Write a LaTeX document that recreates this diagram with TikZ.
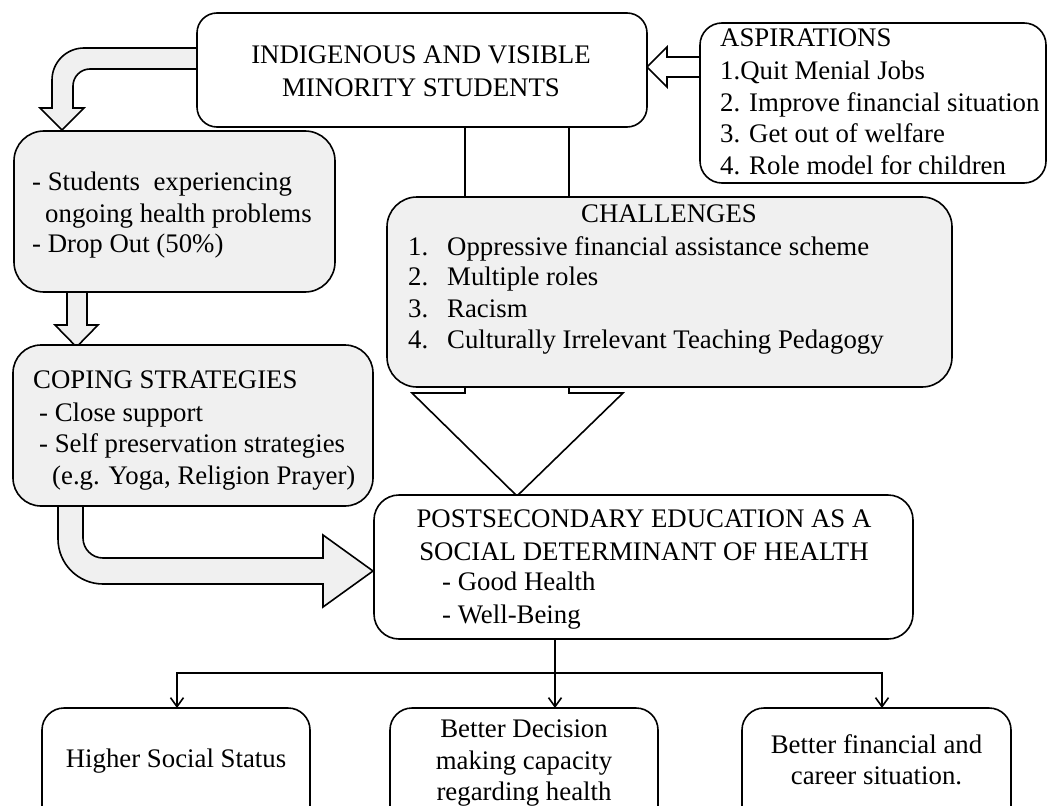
\documentclass[tikz,border=0pt]{standalone}
\usepackage{fontspec}
\setmainfont{Liberation Serif}
\usetikzlibrary{arrows.meta}
\definecolor{boxgray}{HTML}{F0F0F0}
\tikzset{
  box/.style={draw, line width=1.6pt, inner sep=0pt, outer sep=0pt, fill=white},
  graybox/.style={box, fill=boxgray},
  blockarrow/.style={draw, line width=1.6pt, fill=boxgray, line join=miter},
  txt/.style={anchor=base west, inner sep=0pt, font=\fontsize{26.8}{32}\selectfont},
  ctxt/.style={txt, anchor=base},
  conn/.style={draw, line width=1.6pt},
  tip/.style={-{Straight Barb[length=9pt,width=13pt,line width=1.6pt]}}
}
\begin{document}
\begin{tikzpicture}[x=1pt,y=-1pt]
\useasboundingbox (0,0) rectangle (1048,805);
% big white block arrow (behind boxes)
\draw[blockarrow, fill=white] (465,120) -- (465,393) -- (412,393) -- (517,496) -- (623,393) -- (569,393) -- (569,120) -- cycle;
% top-left bent arrow
\draw[blockarrow] (200,48) -- (84,48) .. controls (66.3,48) and (52,62.3) .. (52,80) -- (52,108) -- (40,108) -- (62,130) -- (84,108) -- (73,108) -- (73,86) .. controls (73,76.6) and (80.6,69) .. (90,69) -- (200,69) -- cycle;
% students -> coping arrow
\draw[blockarrow] (67,288) -- (67,325) -- (55,325) -- (76.5,347) -- (98,325) -- (87,325) -- (87,288) -- cycle;
% aspirations -> indigenous arrow
\draw[blockarrow, fill=white] (703,57) -- (667,57) -- (667,47) -- (647,67) -- (667,87) -- (667,77) -- (703,77) -- cycle;
% coping -> postsecondary bent arrow
\draw[blockarrow] (58,500) -- (58,539) .. controls (58,563.8) and (78.2,584) .. (103,584) -- (323,584) -- (323,607) -- (373,571) -- (323,535) -- (323,558) -- (103,558) .. controls (92,558) and (83,549) .. (83,538) -- (83,500) -- cycle;

% boxes
\node[box, rounded corners=20pt, minimum width=450pt, minimum height=114pt] (ind) at (422,70) {};
\node[box, rounded corners=22pt, minimum width=346pt, minimum height=160pt] (asp) at (873,103) {};
\node[graybox, rounded corners=30pt, minimum width=321pt, minimum height=161pt] (stu) at (174.5,211.5) {};
\node[graybox, rounded corners=30pt, minimum width=565pt, minimum height=190pt] (cha) at (669.5,292) {};
\node[graybox, rounded corners=28pt, minimum width=360pt, minimum height=161pt] (cop) at (193,425.5) {};
\node[box, rounded corners=25pt, minimum width=539pt, minimum height=144pt] (pos) at (643.5,567) {};
\node[box, rounded corners=22pt, minimum width=268pt, minimum height=122pt] (lb) at (176,769) {};
\node[box, rounded corners=22pt, minimum width=268pt, minimum height=122pt] (mb) at (524,769) {};
\node[box, rounded corners=22pt, minimum width=269pt, minimum height=122pt] (rb) at (876.5,769) {};

% texts
\node[ctxt] (t1) at (421,64) {INDIGENOUS AND VISIBLE};
\node[ctxt] (t2) at (421,97) {MINORITY STUDENTS};

\node[txt] (a0) at (720,47) {ASPIRATIONS};
\node[txt] (a1) at (720,80) {1.Quit Menial Jobs};
\node[txt] (a2) at (720,112) {2. Improve financial situation};
\node[txt] (a3) at (720,143) {3. Get out of welfare};
\node[txt] (a4) at (720,175) {4. Role model for children};

\node[txt] (s1) at (32,190) {- Students\ \ experiencing};
\node[txt] (s2) at (45,222) {ongoing health problems};
\node[txt] (s3) at (32,252) {- Drop Out (50\%)};

\node[ctxt] (c0) at (669,222) {CHALLENGES};
\node[txt] (c1n) at (408,255) {1.};
\node[txt] (c1) at (447,255) {Oppressive financial assistance scheme};
\node[txt] (c2n) at (408,285) {2.};
\node[txt] (c2) at (447,285) {Multiple roles};
\node[txt] (c3n) at (408,317) {3.};
\node[txt] (c3) at (447,317) {Racism};
\node[txt] (c4n) at (408,348) {4.};
\node[txt] (c4) at (447,348) {Culturally Irrelevant Teaching Pedagogy};

\node[txt] (k0) at (33,388) {COPING STRATEGIES};
\node[txt] (k1) at (39,421) {- Close support};
\node[txt] (k2) at (39,452) {- Self preservation strategies};
\node[txt] (k3) at (52,484) {(e.g. Yoga, Religion Prayer)};

\node[ctxt] (p1) at (644,527) {POSTSECONDARY EDUCATION AS A};
\node[ctxt] (p2) at (644,560) {SOCIAL DETERMINANT OF HEALTH};
\node[txt] (p3) at (442,590) {- Good Health};
\node[txt] (p4) at (442,623) {- Well-Being};

\node[ctxt] (l1) at (176,767) {Higher Social Status};
\node[ctxt] (m1) at (524,737) {Better Decision};
\node[ctxt] (m2) at (524,769) {making capacity};
\node[ctxt] (m3) at (524,800) {regarding health};
\node[ctxt] (r1) at (876.5,753) {Better financial and};
\node[ctxt] (r2) at (876.5,784) {career situation.};

% connectors
\coordinate (jM) at (555,673);
\coordinate (jL) at (177,673);
\coordinate (jR) at (882,673);
\draw[conn] (pos.south -| jM) -- (jM);
\draw[conn, tip] (jM) -- (jM |- mb.north);
\draw[conn, tip] (jM) -- (jL) -- (jL |- lb.north);
\draw[conn, tip] (jM) -- (jR) -- (jR |- rb.north);
\end{tikzpicture}
\end{document}
